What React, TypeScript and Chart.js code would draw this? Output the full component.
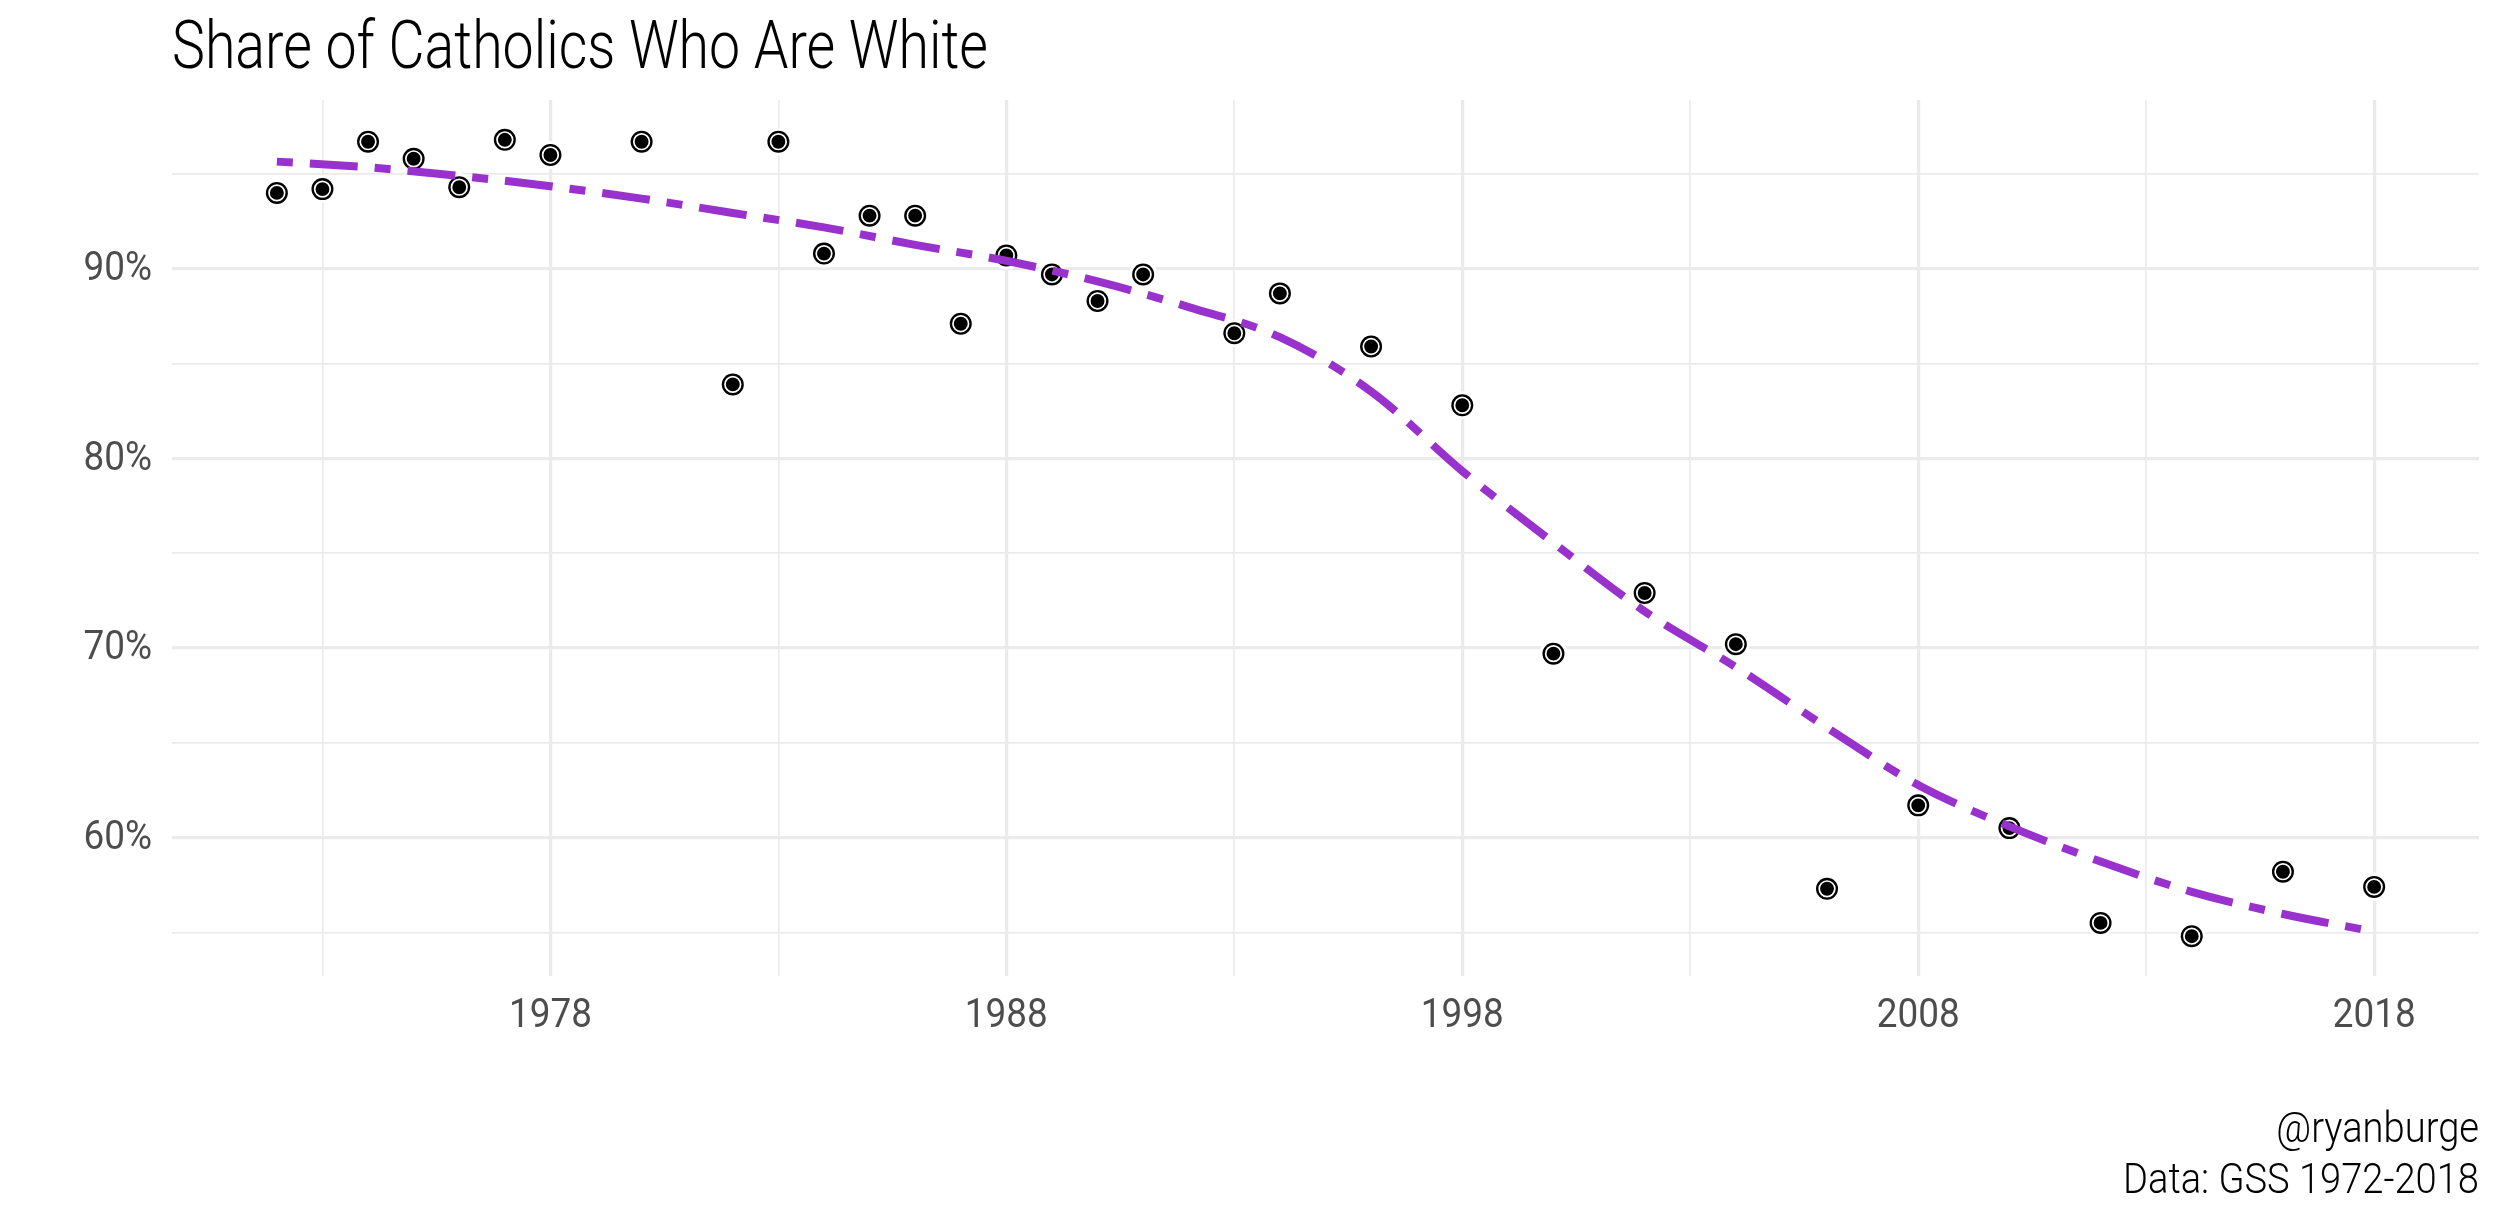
import React, { useEffect, useRef } from "react";
import { Chart, registerables } from "chart.js";

Chart.register(...registerables);

const TITLE = "Share of Catholics Who Are White";
const CAPTION = ["@ryanburge", "Data: GSS 1972-2018"];

const years = [
  1972, 1973, 1974, 1975, 1976, 1977, 1978, 1980, 1982, 1983, 1984, 1985, 1986,
  1987, 1988, 1989, 1990, 1991, 1993, 1994, 1996, 1998, 2000, 2002, 2004, 2006,
  2008, 2010, 2012, 2014, 2016, 2018,
];
const shareWhite = [
  94.0, 94.2, 96.7, 95.8, 94.3, 96.8, 96.0, 96.7, 83.9, 96.7, 90.8, 92.8, 92.8,
  87.1, 90.7, 89.7, 88.3, 89.7, 86.6, 88.7, 85.9, 82.8, 69.7, 72.9, 70.2, 57.3,
  61.7, 60.5, 55.5, 54.8, 58.2, 57.4,
];

const fitYears = [
  1972, 1974, 1976, 1978, 1980, 1982, 1984, 1986, 1988, 1990, 1992, 1994, 1996,
  1998, 2000, 2002, 2004, 2006, 2008, 2010, 2012, 2014, 2016, 2018,
];
const fitValues = [
  95.65, 95.35, 94.9, 94.35, 93.7, 92.94, 92.18, 91.26, 90.42, 89.33, 87.98,
  86.39, 83.53, 79.33, 75.55, 71.93, 68.99, 65.8, 62.77, 60.59, 58.74, 57.14,
  55.97, 55.04,
];

const xGridYears = [1973, 1978, 1983, 1988, 1993, 1998, 2003, 2008, 2013, 2018];
const xLabelYears = [1978, 1988, 1998, 2008, 2018];
const yGridValues = [55, 60, 65, 70, 75, 80, 85, 90, 95];
const yLabelValues = [60, 70, 80, 90];

const FONT = 'Roboto, "DejaVu Sans Condensed", sans-serif';
const W = 2500;
const H = 1219;

function squeezedText(
  ctx: CanvasRenderingContext2D,
  text: string,
  x: number,
  y: number,
  sx: number,
  align: "left" | "right" | "center"
) {
  ctx.save();
  ctx.translate(x, y);
  ctx.scale(sx, 1);
  ctx.textAlign = align;
  ctx.fillText(text, 0, 0);
  ctx.restore();
}

export default function App() {
  const ref = useRef<HTMLCanvasElement>(null);

  useEffect(() => {
    const canvas = ref.current;
    if (!canvas) return;
    const pts = years.map((y, i) => ({ x: y, y: shareWhite[i] }));
    const fit = fitYears.map((y, i) => ({ x: y, y: fitValues[i] }));

    const textPlugin = {
      id: "texts",
      afterDraw(chart: any) {
        const { ctx, chartArea } = chart;
        const xs = chart.scales.x;
        const ys = chart.scales.y;
        ctx.save();
        ctx.textBaseline = "alphabetic";

        // title
        ctx.fillStyle = "#000";
        ctx.font = `300 66px ${FONT}`;
        let sx = 816 / ctx.measureText(TITLE).width;
        squeezedText(ctx, TITLE, chartArea.left, 68, sx, "left");

        // caption
        ctx.font = `300 43px ${FONT}`;
        sx = 356 / ctx.measureText(CAPTION[1]).width;
        squeezedText(ctx, CAPTION[0], chartArea.right, 1142, sx, "right");
        squeezedText(ctx, CAPTION[1], chartArea.right, 1193, sx, "right");

        // tick labels
        ctx.fillStyle = "#4D4D4D";
        ctx.font = `400 41px ${FONT}`;
        sx = 83 / ctx.measureText("1978").width;
        for (const yr of xLabelYears) {
          squeezedText(ctx, String(yr), xs.getPixelForValue(yr), 1027, sx, "center");
        }
        ctx.textBaseline = "middle";
        for (const v of yLabelValues) {
          squeezedText(ctx, `${v}%`, 152, ys.getPixelForValue(v) + 1, sx, "right");
        }
        ctx.restore();
      },
    };

    const chart = new Chart(canvas, {
      type: "scatter",
      data: {
        datasets: [
          {
            type: "line",
            data: fit,
            borderColor: "#9932CC",
            borderWidth: 8,
            borderDash: [16, 17, 48, 17],
            borderCapStyle: "butt",
            pointRadius: 0,
            cubicInterpolationMode: "monotone",
            fill: false,
            order: 0,
          } as any,
          {
            data: pts,
            pointRadius: 7.8,
            pointBackgroundColor: "#000",
            pointBorderColor: "#fff",
            pointBorderWidth: 1.7,
            order: 1,
          },
          {
            data: pts,
            pointRadius: 11,
            pointBackgroundColor: "#000",
            pointBorderWidth: 0,
            order: 2,
          },
          {
            data: pts,
            pointRadius: 14,
            pointBackgroundColor: "#fff",
            pointBorderWidth: 0,
            order: 3,
          },
        ],
      },
      options: {
        animation: false,
        responsive: false,
        devicePixelRatio: 1,
        events: [],
        layout: { padding: { top: 100, right: 21, bottom: 183, left: 0 } },
        plugins: {
          legend: { display: false },
          tooltip: { enabled: false },
        },
        scales: {
          x: {
            type: "linear",
            min: 1969.7,
            max: 2020.3,
            afterBuildTicks: (s: any) => {
              s.ticks = xGridYears.map((v) => ({ value: v }));
            },
            afterFit: (s: any) => {
              s.height = 60;
            },
            border: { display: false },
            grid: {
              color: "#EBEBEB",
              drawTicks: false,
              lineWidth: (c: any) =>
                c.tick && xLabelYears.includes(c.tick.value) ? 3.2 : 1.7,
            },
            ticks: { display: false },
          },
          y: {
            type: "linear",
            min: 52.7,
            max: 98.9,
            afterBuildTicks: (s: any) => {
              s.ticks = yGridValues.map((v) => ({ value: v }));
            },
            afterFit: (s: any) => {
              s.width = 172;
            },
            border: { display: false },
            grid: {
              color: "#EBEBEB",
              drawTicks: false,
              lineWidth: (c: any) =>
                c.tick && yLabelValues.includes(c.tick.value) ? 3.2 : 1.7,
            },
            ticks: { display: false },
          },
        },
      },
      plugins: [textPlugin],
    });

    return () => chart.destroy();
  }, []);

  return (
    <div
      style={{
        position: "fixed",
        left: 0,
        top: 0,
        width: W,
        height: H,
        background: "#fff",
      }}
    >
      <canvas ref={ref} width={W} height={H} style={{ width: W, height: H }} />
    </div>
  );
}
